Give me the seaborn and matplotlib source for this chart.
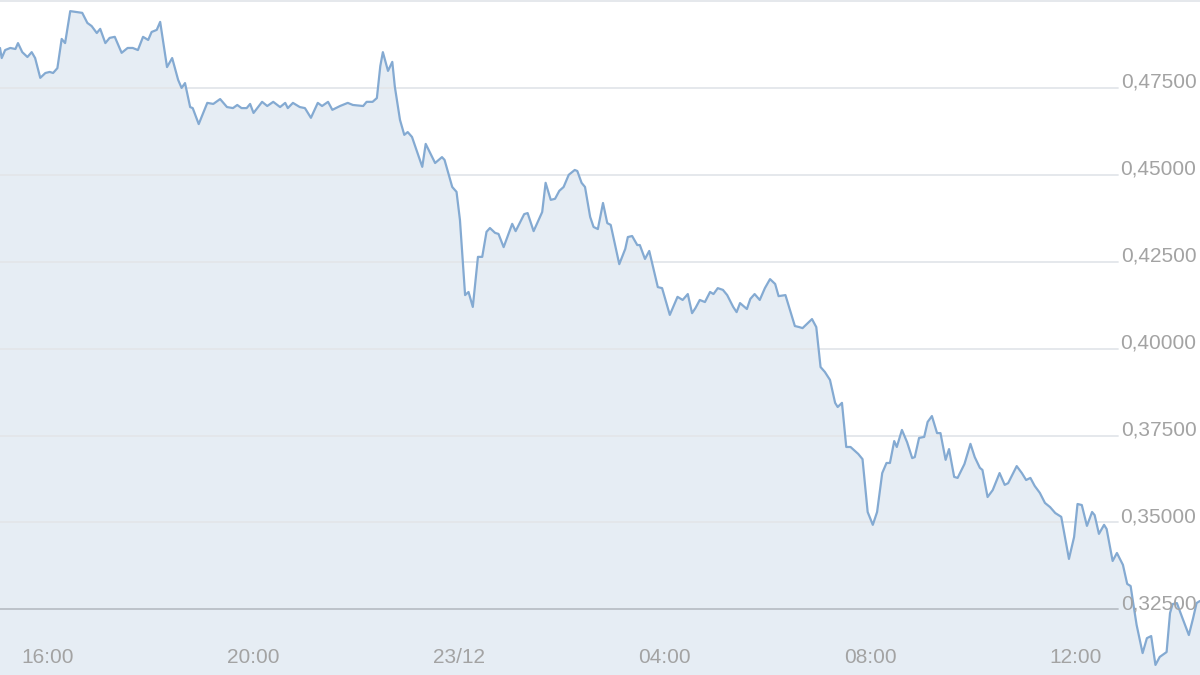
import matplotlib
matplotlib.use("Agg")
import matplotlib.pyplot as plt
import matplotlib.dates as mdates
import seaborn as sns
import pandas as pd

# minutes after 22/12 15:00 and price
minutes = [
    4, 6, 10, 16, 22, 25, 30, 36, 41, 45, 51, 57, 62, 66, 71, 76, 80, 86, 100, 106,
    111, 117, 121, 127, 132, 138, 146, 153, 159, 165, 171, 177, 181, 187, 191, 199, 205, 212, 216, 220,
    226, 229, 236, 246, 253, 261, 269, 276, 281, 286, 292, 296, 300, 310, 316, 323, 331, 337, 340, 346,
    354, 360, 367, 375, 380, 387, 392, 401, 410, 416, 428, 432, 439, 444, 448, 451, 457, 462, 465, 471,
    476, 480, 485, 497, 501, 512, 520, 523, 532, 537, 541, 547, 551, 556, 562, 567, 572, 576, 582, 586,
    592, 602, 606, 616, 620, 627, 637, 641, 647, 652, 657, 662, 668, 675, 678, 683, 687, 693, 697, 702,
    708, 713, 717, 727, 734, 737, 742, 748, 751, 757, 762, 772, 777, 786, 795, 801, 807, 812, 816, 821,
    827, 833, 837, 842, 848, 853, 860, 864, 868, 876, 880, 885, 891, 897, 903, 909, 913, 921, 932, 937,
    941, 952, 957, 962, 967, 973, 979, 982, 987, 992, 997, 1006, 1011, 1017, 1023, 1028, 1034, 1039, 1043, 1048,
    1051, 1057, 1063, 1069, 1072, 1077, 1083, 1087, 1092, 1098, 1102, 1108, 1112, 1118, 1122, 1130, 1137, 1142, 1148, 1151,
    1157, 1163, 1171, 1177, 1181, 1191, 1197, 1202, 1207, 1212, 1218, 1224, 1230, 1236, 1243, 1252, 1258, 1262, 1267, 1273,
    1279, 1282, 1287, 1293, 1296, 1303, 1308, 1315, 1320, 1324, 1327, 1331, 1338, 1343, 1348, 1353, 1358, 1366, 1370, 1373,
    1378, 1384, 1392, 1397, 1401, 1405,
]
prices = [
    0.4865, 0.4836, 0.4859, 0.4865, 0.4862, 0.4879, 0.4853, 0.4839, 0.4853, 0.4836,
    0.4779, 0.4793, 0.4796, 0.4793, 0.4807, 0.4891, 0.4879, 0.4971, 0.4966, 0.4937,
    0.4928, 0.4908, 0.4920, 0.4879, 0.4894, 0.4897, 0.4851, 0.4865, 0.4865, 0.4859,
    0.4897, 0.4888, 0.4911, 0.4917, 0.4940, 0.4810, 0.4836, 0.4773, 0.4750, 0.4764,
    0.4695, 0.4692, 0.4646, 0.4707, 0.4704, 0.4718, 0.4695, 0.4692, 0.4701, 0.4692,
    0.4692, 0.4704, 0.4678, 0.4710, 0.4698, 0.4710, 0.4695, 0.4707, 0.4692, 0.4707,
    0.4695, 0.4692, 0.4664, 0.4707, 0.4698, 0.4710, 0.4687, 0.4698, 0.4707, 0.4701,
    0.4698, 0.4710, 0.4710, 0.4721, 0.4813, 0.4853, 0.4799, 0.4825, 0.4753, 0.4658,
    0.4615, 0.4623, 0.4609, 0.4523, 0.4589, 0.4534, 0.4551, 0.4543, 0.4465, 0.4451,
    0.4370, 0.4154, 0.4163, 0.4120, 0.4264, 0.4264, 0.4336, 0.4347, 0.4333, 0.4330,
    0.4292, 0.4359, 0.4338, 0.4387, 0.4390, 0.4338, 0.4393, 0.4477, 0.4428, 0.4431,
    0.4454, 0.4465, 0.4500, 0.4514, 0.4511, 0.4477, 0.4465, 0.4379, 0.4350, 0.4344,
    0.4419, 0.4361, 0.4356, 0.4243, 0.4287, 0.4321, 0.4324, 0.4298, 0.4298, 0.4258,
    0.4281, 0.4177, 0.4174, 0.4097, 0.4149, 0.4140, 0.4157, 0.4102, 0.4117, 0.4140,
    0.4134, 0.4163, 0.4157, 0.4174, 0.4169, 0.4154, 0.4120, 0.4105, 0.4131, 0.4114,
    0.4143, 0.4157, 0.4140, 0.4174, 0.4200, 0.4186, 0.4151, 0.4154, 0.4065, 0.4062,
    0.4059, 0.4085, 0.4062, 0.3947, 0.3933, 0.3910, 0.3844, 0.3832, 0.3844, 0.3717,
    0.3717, 0.3697, 0.3682, 0.3530, 0.3493, 0.3530, 0.3642, 0.3671, 0.3671, 0.3734,
    0.3717, 0.3766, 0.3731, 0.3685, 0.3688, 0.3743, 0.3746, 0.3789, 0.3806, 0.3757,
    0.3757, 0.3680, 0.3711, 0.3631, 0.3628, 0.3668, 0.3726, 0.3688, 0.3657, 0.3651,
    0.3573, 0.3593, 0.3642, 0.3608, 0.3613, 0.3662, 0.3642, 0.3622, 0.3628, 0.3605,
    0.3585, 0.3556, 0.3544, 0.3527, 0.3516, 0.3395, 0.3458, 0.3553, 0.3550, 0.3490,
    0.3530, 0.3521, 0.3467, 0.3493, 0.3481, 0.3389, 0.3412, 0.3378, 0.3323, 0.3317,
    0.3268, 0.3205, 0.3124, 0.3167, 0.3173, 0.3090, 0.3113, 0.3127, 0.3239, 0.3265,
    0.3268, 0.3228, 0.3176, 0.3225, 0.3268, 0.3274,
]

tick_times = ["2017-12-22 16:00", "2017-12-22 20:00", "2017-12-23 00:00",
              "2017-12-23 04:00", "2017-12-23 08:00", "2017-12-23 12:00"]
tick_labels = ["16:00", "20:00", "23/12", "04:00", "08:00", "12:00"]
y_ticks = [0.325, 0.35, 0.375, 0.40, 0.425, 0.45, 0.475, 0.50]

LINE = "#84aad2"
FILL = "#e6edf4"
GRID = "#e3e6ea"
TEXT = "#a3a3a3"

df = pd.DataFrame({
    "time": pd.Timestamp("2017-12-22 15:00") + pd.to_timedelta(minutes, unit="min"),
    "price": prices,
})

sns.set_style("white")
plt.rcParams["font.family"] = ["Liberation Sans", "DejaVu Sans"]

fig = plt.figure(figsize=(12, 6.75), dpi=100)
ax = fig.add_axes([0, 0, 1, 1])
ymin, ymax = 0.3061, 0.5003

ax.fill_between(df["time"], df["price"], ymin, color=FILL, lw=0, zorder=1)

for v in y_ticks:
    col = "#b9bfc6" if v == y_ticks[0] else GRID
    ax.axhline(v, xmin=0, xmax=0.932 if v < 0.5 else 1, color=col, lw=1.3, zorder=2)

sns.lineplot(data=df, x="time", y="price", ax=ax, color=LINE, lw=1.6, zorder=3)

# y labels sit inside the plot, right-aligned just above their gridline
for v in y_ticks[:-1]:
    ax.text(0.997, v, f"{v:.5f}".replace(".", ","), transform=ax.get_yaxis_transform(),
            ha="right", va="baseline", fontsize=15, color=TEXT, zorder=4)

# x labels sit inside the plot near the bottom
for t, lab in zip(tick_times, tick_labels):
    ax.text(mdates.date2num(pd.Timestamp(t)), 0.026, lab, transform=ax.get_xaxis_transform(),
            ha="center", va="center", fontsize=15, color=TEXT, zorder=4)

ax.set_xlim(df["time"].iloc[0], df["time"].iloc[-1])
ax.set_ylim(ymin, ymax)
ax.set_xticks([])
ax.set_yticks([])
ax.set_xlabel("")
ax.set_ylabel("")
sns.despine(ax=ax, left=True, bottom=True)

fig.savefig("out.png", dpi=100)
plt.close(fig)
